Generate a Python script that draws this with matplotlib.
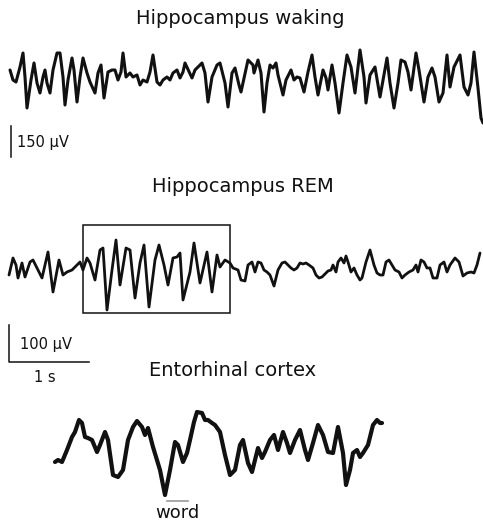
import numpy as np
import matplotlib
matplotlib.use('Agg')
import matplotlib.pyplot as plt
from matplotlib.patches import Rectangle

# traces: sample position (1/80 s per step, 80 steps = 1 s) and amplitude (display units)
waking_t = [10, 13, 16, 20, 23, 25, 27, 31, 34, 37, 40, 43, 45, 47, 50, 53, 57, 60, 63, 65,
            68, 72, 74, 77, 80, 83, 87, 90, 95, 98, 101, 104, 108, 112, 115, 118, 121, 123, 126, 130,
            133, 137, 140, 143, 147, 150, 153, 157, 160, 163, 167, 170, 173, 177, 180, 183, 185, 192, 195, 200,
            202, 205, 208, 212, 217, 220, 225, 228, 232, 235, 239, 241, 248, 253, 254, 258, 261, 264, 267, 270,
            273, 276, 278, 283, 286, 291, 294, 297, 300, 304, 308, 312, 315, 318, 323, 326, 328, 332, 335, 339,
            343, 347, 351, 355, 360, 364, 366, 370, 375, 380, 387, 390, 394, 398, 401, 405, 408, 411, 416, 419,
            424, 428, 432, 435, 439, 443, 447, 450, 454, 460, 464, 468, 471, 474, 478, 481, 483]
waking_v = [10, 0, -2, 13, 27, 3, -28, 0, 17, -3, -13, 3, 10, -3, -13, 10, 27, 27, 3, -25,
            0, 22, 10, -22, 3, 22, 7, -2, -13, 7, 15, -18, 8, 10, 10, 0, 8, 27, 3, 7,
            3, 5, -5, 0, -2, 8, 25, -2, -5, 0, 3, 0, 7, 10, 2, 8, 17, 2, 10, 15,
            17, 7, -22, 3, 15, 17, -3, -27, 7, 12, -5, -12, 20, 15, 7, 20, 7, -32, -3, 15,
            12, 17, 5, -15, 0, 10, 0, 3, 2, -12, 8, 25, 3, -15, 10, 2, -10, 15, -3, -33,
            -3, 25, 13, -13, 30, 3, -23, 5, 13, -17, 22, -3, -28, -3, 20, 18, 8, -10, 27, 10,
            -22, 3, 12, 3, -22, -13, 25, -7, 13, 25, -7, -15, -3, 28, -8, -38, -43]

rem_t = [9, 13, 16, 18, 22, 25, 30, 33, 37, 42, 48, 53, 59, 63, 67, 72, 77, 80, 83, 87,
         90, 95, 100, 103, 107, 112, 116, 120, 126, 130, 135, 140, 144, 149, 155, 159, 164, 168, 173, 177,
         180, 183, 190, 194, 200, 207, 212, 217, 220, 225, 230, 233, 238, 241, 245, 248, 252, 255, 258, 261,
         264, 267, 270, 274, 278, 282, 285, 288, 291, 294, 297, 300, 303, 306, 309, 313, 316, 319, 322, 325,
         328, 331, 333, 336, 338, 341, 344, 346, 348, 351, 354, 357, 360, 362, 366, 370, 374, 377, 380, 383,
         386, 389, 392, 395, 399, 402, 405, 409, 413, 416, 418, 421, 424, 427, 430, 433, 437, 440, 444, 447,
         450, 455, 459, 463, 467, 471, 474, 477, 480]
rem_v = [-7, 10, 3, -10, 5, -9, 6, 8, 0, -10, 16, -24, 8, -7, -4, -2, 3, 6, -2, 10,
         5, -12, 18, 20, -42, -2, 28, -17, 20, 18, -30, 5, 23, -39, 8, 23, 3, -17, 10, 11,
         15, -32, -4, 25, -15, 16, -24, 13, 1, 8, 5, 0, -2, -12, -13, 3, 6, -4, 6, 5,
         -2, -4, -7, -18, -2, 5, 6, 3, 0, -2, 0, 5, 4, 5, 3, 0, -7, -10, -9, -6,
         -3, -2, 3, -4, 6, 10, 5, 12, 6, -4, 0, -7, -12, -10, 6, 18, 3, -5, -7, -7,
         6, 8, 3, -2, -4, -10, -7, -4, -2, 3, -4, 8, 6, 0, 0, -10, -10, 3, 6, -4,
         3, 10, 6, -8, -5, -4, -5, 3, 15]

ento_t = [55, 58, 62, 67, 72, 75, 79, 82, 85, 88, 92, 97, 100, 105, 108, 113, 118, 123, 128, 133,
          137, 142, 145, 148, 153, 160, 165, 170, 175, 178, 183, 187, 190, 194, 197, 202, 205, 208, 212, 215,
          220, 225, 230, 235, 240, 243, 248, 252, 255, 258, 262, 265, 270, 274, 278, 283, 287, 290, 295, 300,
          305, 308, 313, 318, 323, 328, 333, 338, 343, 346, 350, 353, 357, 360, 363, 368, 373, 377, 380, 382]
ento_v = [-12, -10, -12, 0, 13, 18, 30, 27, 13, 12, 10, -2, 5, 18, 10, -25, -27, -20, 10, 23,
          29, 23, 15, 22, 3, -20, -45, -20, 8, 5, -12, -3, 10, 28, 38, 37, 30, 30, 27, 25,
          18, -5, -25, -20, 5, 10, -13, -22, -10, 2, -8, -2, 10, 15, 0, 18, 7, -3, 10, 20,
          0, -10, 7, 25, 15, -2, -3, 23, -3, -35, -20, -3, 0, -7, -3, 5, 25, 30, 27, 27]

titles = ['Hippocampus waking', 'Hippocampus REM', 'Entorhinal cortex']

fig = plt.figure(figsize=(4.83, 5.26), dpi=100)
ax = fig.add_axes([0, 0, 1, 1])
ax.set_xlim(0, 483)
ax.set_ylim(526, 0)
ax.axis('off')

font = 'DejaVu Sans'
ink = '#111111'
trace_kw = dict(color=ink, solid_joinstyle='round', solid_capstyle='round')

# traces, each around its own baseline
ax.plot(waking_t, 80 - np.array(waking_v), lw=2.2, **trace_kw)
ax.plot(rem_t, 268 - np.array(rem_v), lw=2.0, **trace_kw)
ax.plot(ento_t, 450 - np.array(ento_v), lw=3.0, **trace_kw)

ax.text(240, 18, titles[0], ha='center', va='center', fontsize=14, family=font, color=ink)
ax.text(243, 186, titles[1], ha='center', va='center', fontsize=14, family=font, color=ink)
ax.text(233, 370, titles[2], ha='center', va='center', fontsize=14, family=font, color=ink)

# box around the theta burst
ax.add_patch(Rectangle((83, 225), 147, 88, fill=False, ec=ink, lw=1.1))

# scale bars
ax.plot([11, 11], [126, 157], color=ink, lw=1.1)
ax.text(17, 143, '150 μV', ha='left', va='center', fontsize=10.5, family=font, color=ink)
ax.plot([9, 9, 89], [325, 362, 362], color=ink, lw=1.1)
ax.text(20, 344, '100 μV', ha='left', va='center', fontsize=10.5, family=font, color=ink)
ax.text(45, 377, '1 s', ha='center', va='center', fontsize=10.5, family=font, color=ink)

# word marker
ax.plot([167, 188], [501, 501], color='#999999', lw=1.2)
ax.text(177, 513, 'word', ha='center', va='center', fontsize=13, family=font, color=ink)

fig.savefig('out.png', dpi=100)
